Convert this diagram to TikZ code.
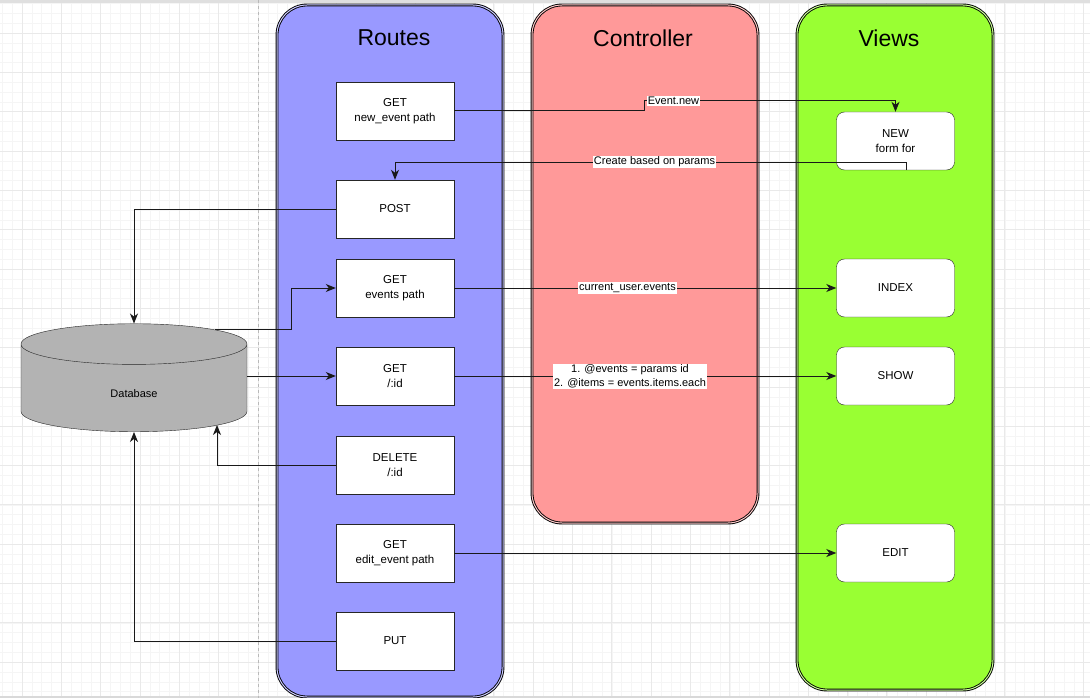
\documentclass[tikz,border=0pt]{standalone}
\usepackage{fontspec}
\setmainfont{Liberation Sans}
\usepackage{xcolor}
\usetikzlibrary{shapes.geometric,arrows.meta}
\definecolor{routesblue}{HTML}{9999FF}
\definecolor{controlred}{HTML}{FF9999}
\definecolor{viewsgreen}{HTML}{99FF33}
\definecolor{dbgray}{HTML}{B3B3B3}
\definecolor{gridminor}{HTML}{F5F5F5}
\definecolor{gridmajor}{HTML}{E9E9E9}

\begin{document}
\begin{tikzpicture}[x=1pt,y=-1pt,%
% common options for the lanes:
lane/.style = {draw=black, line width=0.9pt, double distance=1pt,
            rounded corners=30pt, inner sep=0},
lanetitle/.style = {font=\fontsize{23}{27}\selectfont, anchor=center},
% common options for the blocks:
route/.style = {draw=black!85, fill=white, align=center, minimum width=118,
            minimum height=58, inner sep=0, font=\fontsize{11.5}{15}\selectfont},
view/.style = {route, rounded corners=8pt},
edgelabel/.style = {fill=white, inner sep=1pt, align=center,
            font=\fontsize{11}{14}\selectfont},
% common options for the connectors:
arrow/.style = {draw=black!90, line width=1pt, -{Stealth[length=10pt,width=8pt,inset=3pt]}}]
\useasboundingbox (0,0) rectangle (1090,698);
\clip (0,0) rectangle (1090,698);
\fill[white] (0,0) rectangle (1090,698);
\begin{scope}[shift={(22,33)}]
\draw[gridminor, step=9.83pt] (-30,680) grid (1080,-40);
\draw[gridmajor, step=39.3pt] (-30,680) grid (1080,-40);
\end{scope}
\fill[gray!25] (0,0) rectangle (1090,3);
\draw[gray!30, line width=1.5pt] (0,697) -- (1090,697);
\draw[gray!55, dashed] (258,0) -- (258,698);
% lanes
\node[lane, fill=routesblue, double=routesblue!50!white, minimum width=226, minimum height=692] (routes) at (390,351) {};
\node[lane, fill=controlred, double=controlred!50!white, minimum width=226, minimum height=518] (controller) at (645,264) {};
\node[lane, fill=viewsgreen, double=viewsgreen!50!white, minimum width=196, minimum height=685] (views) at (895,347.5) {};
\node[lanetitle] (routestitle) at (394,38) {Routes};
\node[lanetitle] (controllertitle) at (643,38) {Controller};
\node[lanetitle] (viewstitle) at (889,38) {Views};
% routes
\node[route] (getnew) at (395,111) {GET\\new\_event path};
\node[route] (post) at (395,209) {POST};
\node[route] (getevents) at (395,288) {GET\\events path};
\node[route] (getid) at (395,376) {GET\\/:id};
\node[route] (delete) at (395,465) {DELETE\\/:id};
\node[route] (getedit) at (395,553) {GET\\edit\_event path};
\node[route] (put) at (395,641) {PUT};
% views
\node[view] (newview) at (895.5,141) {NEW\\form for};
\node[view] (index) at (895.5,288) {INDEX};
\node[view] (show) at (895.5,376) {SHOW};
\node[view] (edit) at (895.5,553) {EDIT};
% database
\node[cylinder, shape border rotate=90, aspect=0.18, draw=black!85, fill=dbgray,
      text width=226pt, align=center, minimum height=108, inner sep=0,
      font=\fontsize{11}{14}\selectfont] (db) at (134,388) {\raisebox{-9pt}[0pt][0pt]{Database}};
% connectors
\draw[arrow] (getnew.east) -| (644,101) -| (newview.north);
\draw[arrow] ([xshift=10.5pt]newview.south) -- ++(0,-8) -| (post.north);
\draw[arrow] (post.west) -| (db.north);
\draw[arrow] ([xshift=81pt,yshift=59pt]db.center) -- ++(76,0) |- (getevents.west);
\draw[arrow] (getevents.east) -- (index.west);
\draw[arrow] (db.east |- getid.west) -- (getid.west);
\draw[arrow] (getid.east) -- (show.west);
\draw[arrow] (delete.west) -| ([xshift=83pt,yshift=-37pt]db.center);
\draw[arrow] (getedit.east) -- (edit.west);
\draw[arrow] (put.west) -| (db.south);
% labels
\node[edgelabel] (newlabel) at (673.5,101) {Event.new};
\node[edgelabel] (createlabel) at (654.5,162) {Create based on params};
\node[edgelabel] (indexlabel) at (627.5,288) {current\_user.events};
\node[edgelabel] (showlabel) at (630,376.5) {1. @events = params id\\2. @items = events.items.each};
\end{tikzpicture}
\end{document}
